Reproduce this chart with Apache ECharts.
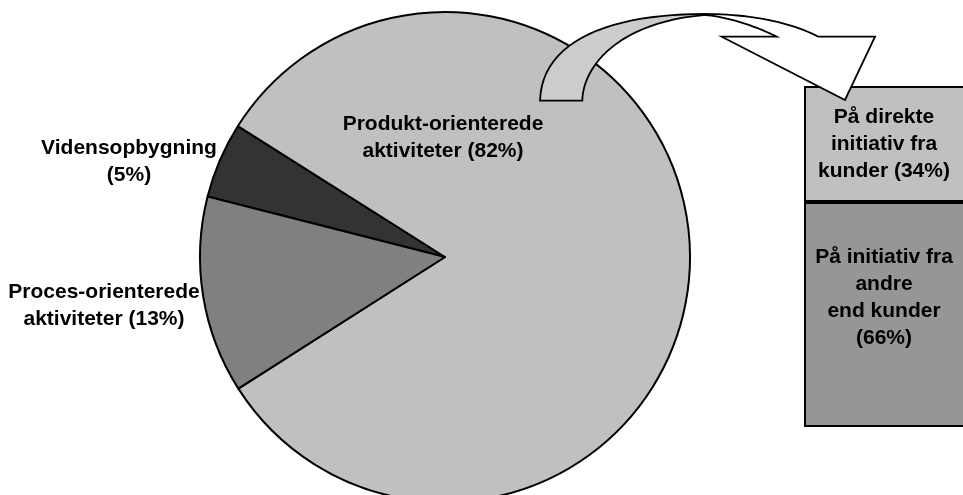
<!DOCTYPE html>
<html>
<head>
<meta charset="utf-8">
<script src="https://cdn.jsdelivr.net/npm/echarts@6/dist/echarts.min.js"></script>
<style>
  html, body { margin: 0; padding: 0; background: #fff; }
  #chart { width: 963px; height: 495px; }
</style>
</head>
<body>
<div id="chart"></div>
<script>
// 饼图数据（按绘制顺序）
const pieNames = ['Vidensopbygning', 'Produkt-orienterede\naktiviteter', 'Proces-orienterede\naktiviteter']
const pieValues = [5, 82, 13]
const pieColors = ['#333333', '#c0c0c0', '#808080']

// 右侧堆叠柱 (下 -> 上)
const barCategory = ['Produkt-orienterede aktiviteter']
const barNames = ['På initiativ fra\nandre\nend kunder', 'På direkte\ninitiativ fra\nkunder']
const barValues = [66, 34]
const barColors = ['#969696', '#c0c0c0']

// 标签位置
const pieLabelPos = [[129, 162], [443, 138], [104, 306]]
const font = "'Liberation Sans', Arial, sans-serif"

const chart = echarts.init(document.getElementById('chart'), null, { renderer: 'canvas' })

// 三次贝塞尔取点，画箭头用
const cubic = (p0, p1, p2, p3, n = 24) => {
  const pts = []
  for (let i = 0; i <= n; i++) {
    const t = i / n, u = 1 - t
    pts.push([
      u * u * u * p0[0] + 3 * u * u * t * p1[0] + 3 * u * t * t * p2[0] + t * t * t * p3[0],
      u * u * u * p0[1] + 3 * u * u * t * p1[1] + 3 * u * t * t * p2[1] + t * t * t * p3[1]
    ])
  }
  return pts
}

// 弯箭头：灰色尾部 + 白色头部
const arrowBack = cubic([540, 100.7], [542, 38], [615, 14], [705, 14])
  .concat(cubic([705, 15], [620, 22], [583, 65], [582.3, 100.7]))
const arrowFront = cubic([705, 14], [750, 14], [790, 22], [818.3, 36.7])
  .concat([[875, 36.7], [845, 100], [721.7, 36.7], [776.7, 36.7]])
  .concat(cubic([776.7, 36.7], [760, 28], [730, 17], [705, 15]))

const labelText = {
  fontFamily: font,
  fontWeight: 'bold',
  fontSize: 21,
  lineHeight: 27,
  color: '#000'
}

const option = {
  backgroundColor: '#fff',
  animation: false,
  // 柱子右边超出画布
  grid: { left: 804, top: 86, width: 166, height: 341, outerBoundsMode: 'none' },
  xAxis: { type: 'category', data: barCategory, show: false },
  yAxis: { type: 'value', min: 0, max: 100, show: false },
  series: [
    {
      type: 'pie',
      center: [445, 257],
      radius: 245,
      startAngle: 165.7,
      clockwise: true,
      silent: true,
      data: pieNames.map((name, i) => ({
        name,
        value: pieValues[i],
        itemStyle: { color: pieColors[i] }
      })),
      itemStyle: { borderColor: '#000', borderWidth: 2 },
      label: {
        show: true,
        position: 'outside',
        width: 300,
        overflow: 'none',
        ...labelText,
        formatter: p => p.name + (p.dataIndex === 0 ? '\n' : ' ') + '(' + p.value + '%)'
      },
      labelLine: { show: false },
      labelLayout: params => ({
        x: pieLabelPos[params.dataIndex][0],
        y: pieLabelPos[params.dataIndex][1],
        align: 'center',
        verticalAlign: 'middle'
      })
    },
    ...barNames.map((name, i) => ({
      type: 'bar',
      name,
      stack: 'initiativ',
      barWidth: '100%',
      silent: true,
      data: [barValues[i]],
      itemStyle: { color: barColors[i], borderColor: '#000', borderWidth: 2 },
      label: {
        show: true,
        position: 'inside',
        offset: i === 0 ? [-3, -17] : [-3, 0],
        align: 'center',
        ...labelText,
        formatter: p => p.seriesName + (i === 0 ? '\n' : ' ') + '(' + p.value + '%)'
      }
    }))
  ],
  graphic: [
    {
      type: 'polygon',
      z: 100,
      shape: { points: arrowBack },
      style: { fill: '#cccccc', stroke: '#000', lineWidth: 1.8 }
    },
    {
      type: 'polygon',
      z: 100,
      shape: { points: arrowFront },
      style: { fill: '#ffffff', stroke: '#000', lineWidth: 1.8 }
    }
  ]
}

chart.setOption(option)
</script>
</body>
</html>
